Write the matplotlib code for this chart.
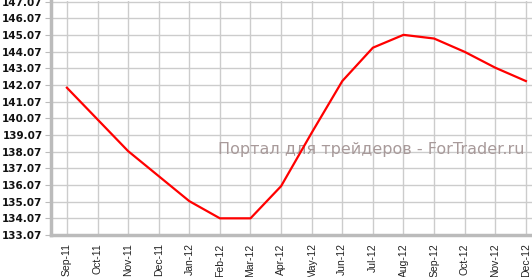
import matplotlib
matplotlib.use("Agg")
import matplotlib.pyplot as plt
import numpy as np

# Monthly values
months = ["Sep-11", "Oct-11", "Nov-11", "Dec-11", "Jan-12", "Feb-12", "Mar-12", "Apr-12",
          "May-12", "Jun-12", "Jul-12", "Aug-12", "Sep-12", "Oct-12", "Nov-12", "Dec-12"]
values = [141.9, 140.0, 138.1, 136.6, 135.1, 134.07, 134.07, 136.0,
          139.2, 142.3, 144.3, 145.07, 144.85, 144.05, 143.1, 142.3]
y_ticks = [133.07 + i for i in range(15)]

fig = plt.figure(figsize=(5.32, 2.77), dpi=100)
ax = fig.add_axes([51 / 532, 42 / 277, 1 - 51 / 532, 234 / 277])

x = np.arange(len(months))
ax.plot(x, values, color="#ff0000", linewidth=1.6, zorder=3)

ax.set_xlim(-0.52, 15.2)
ax.set_ylim(133.07, 147.1)
ax.set_xticks(x)
ax.set_xticklabels(months, rotation=90, fontsize=7.5, color="#222222", family="Liberation Sans")
ax.set_yticks(y_ticks)
ax.set_yticklabels(["%.2f" % v for v in y_ticks], fontsize=7.5, color="#111111", fontweight="bold")

ax.grid(True, color="#cccccc", linewidth=1, zorder=1)
ax.tick_params(axis="y", length=4, color="#bbbbbb", pad=2)
ax.tick_params(axis="x", length=0, pad=6)

for side in ["top", "right"]:
    ax.spines[side].set_visible(False)
for side in ["left", "bottom"]:
    ax.spines[side].set_color("#bbbbbb")
    ax.spines[side].set_linewidth(2.5)

# Watermark
ax.text(0.347, 0.365, "Портал для трейдеров - ForTrader.ru", transform=ax.transAxes,
        fontsize=11.5, color="#a89a9a", ha="left", va="center", zorder=2)

fig.savefig("out.png", dpi=100)
